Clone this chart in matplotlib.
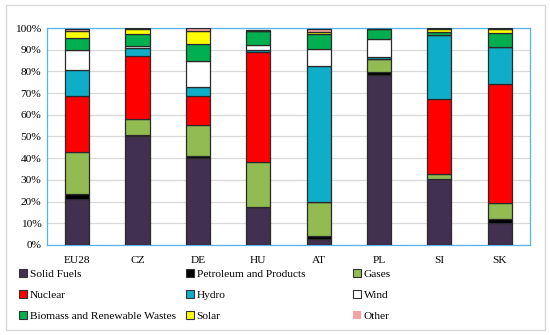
import matplotlib
matplotlib.use("Agg")
import matplotlib.pyplot as plt
from matplotlib.patches import Rectangle, Patch
from matplotlib.ticker import FuncFormatter, MultipleLocator
import numpy as np

plt.rcParams['font.family'] = ['Liberation Serif', 'DejaVu Serif']

categories = ["EU28", "CZ", "DE", "HU", "AT", "PL", "SI", "SK"]
series_names = ["Solid Fuels", "Petroleum and Products", "Gases", "Nuclear", "Hydro",
                "Wind", "Biomass and Renewable Wastes", "Solar", "Other"]
solid_fuels = [21.2, 50.3, 40.0, 17.4, 2.6, 78.2, 30.3, 10.0]
petroleum   = [2.2, 0.3, 1.1, 0.3, 1.6, 1.6, 0.2, 2.0]
gases       = [19.5, 7.4, 14.4, 20.5, 15.5, 5.9, 2.4, 7.2]
nuclear     = [25.9, 28.9, 13.0, 50.7, 0.0, 0.0, 34.6, 55.0]
hydro       = [11.8, 3.7, 4.1, 0.8, 62.9, 1.1, 29.1, 16.9]
wind        = [9.4, 0.9, 12.0, 2.3, 7.7, 8.3, 0.2, 0.2]
biomass     = [5.2, 5.7, 8.2, 6.5, 6.8, 4.4, 1.4, 6.4]
solar       = [3.4, 2.3, 6.0, 0.2, 1.1, 0.1, 1.3, 1.8]
other       = [1.1, 0.3, 1.2, 0.6, 1.5, 0.1, 0.3, 0.3]

values = [solid_fuels, petroleum, gases, nuclear, hydro, wind, biomass, solar, other]
colors = ["#41304F", "#000000", "#92BB52", "#FF0000", "#0FAEC8",
          "#FFFFFF", "#00B050", "#FFFF00", "#F4A2A2"]

FS = 8.2

fig = plt.figure(figsize=(5.5, 3.35), dpi=100)
fig.patches.append(Rectangle((0.010, 0.016), 0.981, 0.968, transform=fig.transFigure,
                             fill=False, edgecolor="#D9D9D9", linewidth=1.0))

ax = fig.add_axes([0.0855, 0.2687, 0.878, 0.6477])
x = np.arange(len(categories))
bottom = np.zeros(len(categories))
for name, vals, col in zip(series_names, values, colors):
    v = np.array(vals, dtype=float)
    ax.bar(x, v, 0.4, bottom=bottom, color=col, edgecolor="#2A2A2A", linewidth=0.9,
           label=name, zorder=3)
    bottom += v

ax.set_xlim(-0.5, len(categories) - 0.5)
ax.set_ylim(0, 100)
ax.yaxis.set_major_locator(MultipleLocator(10))
ax.yaxis.set_major_formatter(FuncFormatter(lambda v, p: f"{int(round(v))}%"))
ax.set_xticks(x)
ax.set_xticklabels(categories)
ax.tick_params(axis='both', length=0, labelsize=FS, colors="#000000")
ax.tick_params(axis='x', pad=8)
ax.tick_params(axis='y', pad=4)
ax.grid(axis='y', color="#D9D9D9", linewidth=0.9, zorder=0)
ax.set_axisbelow(True)
for s in ax.spines.values():
    s.set_color("#56B4E9")
    s.set_linewidth(0.9)

cols = [[0, 3, 6], [1, 4, 7], [2, 5, 8]]
xpos = [0.035, 0.338, 0.642]
for xp, idxs in zip(xpos, cols):
    handles = []
    for i in idxs:
        if series_names[i] == "Other":
            handles.append(Patch(facecolor=colors[i], edgecolor="none", label=series_names[i]))
        else:
            handles.append(Patch(facecolor=colors[i], edgecolor="#333333", linewidth=0.8,
                                 label=series_names[i]))
    fig.legend(handles=handles, loc='upper left', bbox_to_anchor=(xp, 0.198),
               bbox_transform=fig.transFigure, frameon=False, fontsize=FS,
               handlelength=0.7, handleheight=0.7, handletextpad=0.25,
               labelspacing=0.97, borderaxespad=0, borderpad=0)

fig.savefig("out.png", dpi=100)
